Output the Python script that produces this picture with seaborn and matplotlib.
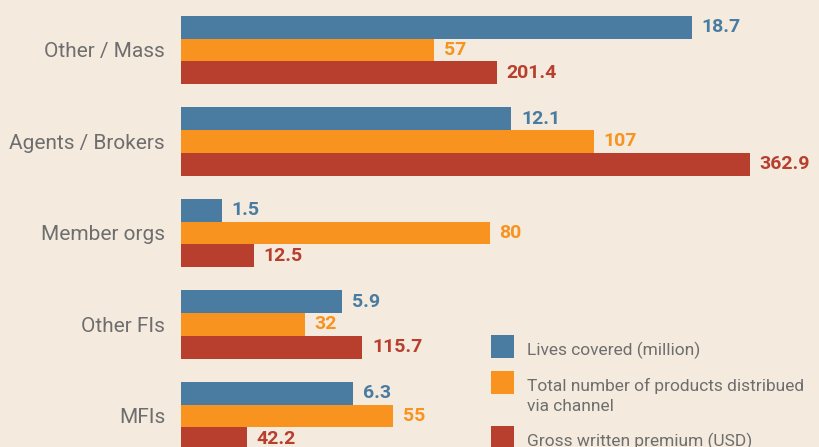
import numpy as np
import pandas as pd
import matplotlib.pyplot as plt
import seaborn as sns
from matplotlib.patches import Rectangle

# Data
channels = ["Other / Mass", "Agents / Brokers", "Member orgs", "Other FIs", "MFIs"]
series = ["Lives covered (million)",
          "Total number of products distribued\nvia channel",
          "Gross written premium (USD)"]

lives = [18.7, 12.1, 1.5, 5.9, 6.3]
products = [57, 107, 80, 32, 55]
premium = [201.4, 362.9, 12.5, 115.7, 42.2]

# the source chart draws two bars longer than their printed value
products_drawn = [65.5, 107, 80, 32, 55]
premium_drawn = [201.4, 362.9, 46.5, 115.7, 42.2]

# each series has its own (hidden) x scale in the original
x_extent = [23.4, 165.5, 407.5]

colors = ["#4A7BA0", "#F7931E", "#B83F2E"]
bg = "#F4EBDE"
grey = "#6E6E6E"

rows = []
for s, drawn, shown, ext in zip(series, [lives, products_drawn, premium_drawn],
                                [lives, products, premium], x_extent):
    for ch, d, v in zip(channels, drawn, shown):
        rows.append({"channel": ch, "series": s, "scaled": d / ext, "label": v})
df = pd.DataFrame(rows)

sns.set_theme(style="white")
plt.rcParams["font.family"] = ["Roboto", "DejaVu Sans"]

W, H = 820, 447
fig = plt.figure(figsize=(W / 100, H / 100), dpi=100, facecolor=bg)
ax = fig.add_axes([181 / W, 0, 1 - 181 / W, 1])
ax.set_facecolor(bg)

sns.barplot(data=df, y="channel", x="scaled", hue="series", hue_order=series,
            order=channels, palette=colors, orient="h", width=0.746,
            saturation=1, legend=False, ax=ax, errorbar=None, linewidth=0)

shown_vals = [lives, products, premium]
for cont, vals, col in zip(ax.containers, shown_vals, colors):
    ax.bar_label(cont, labels=[f"{v:g}" for v in vals], padding=7,
                 color=col, fontsize=14, fontweight="bold")

ax.set_xlim(0, 1)
ax.set_ylim(4.339, -0.546)
ax.set_xlabel("")
ax.set_ylabel("")
ax.set_xticks([])
ax.tick_params(axis="y", length=0, pad=11.5, labelsize=15, labelcolor=grey)
sns.despine(ax=ax, left=True, bottom=True)

# legend drawn by hand: swatch aligned with the first line of each label
sw_x, sw_size, txt_x = 491, 23, 527
sw_tops = [335, 371, 426]
for top, c, s in zip(sw_tops, colors, series):
    fig.add_artist(Rectangle((sw_x / W, 1 - (top + sw_size) / H), sw_size / W, sw_size / H,
                             transform=fig.transFigure, facecolor=c, edgecolor="none"))
    for i, line in enumerate(s.split("\n")):
        fig.text(txt_x / W, 1 - (top + 20 + 20 * i) / H, line, ha="left",
                 va="baseline", fontsize=12.5, color=grey)

fig.savefig("out.png", dpi=100, facecolor=bg)
